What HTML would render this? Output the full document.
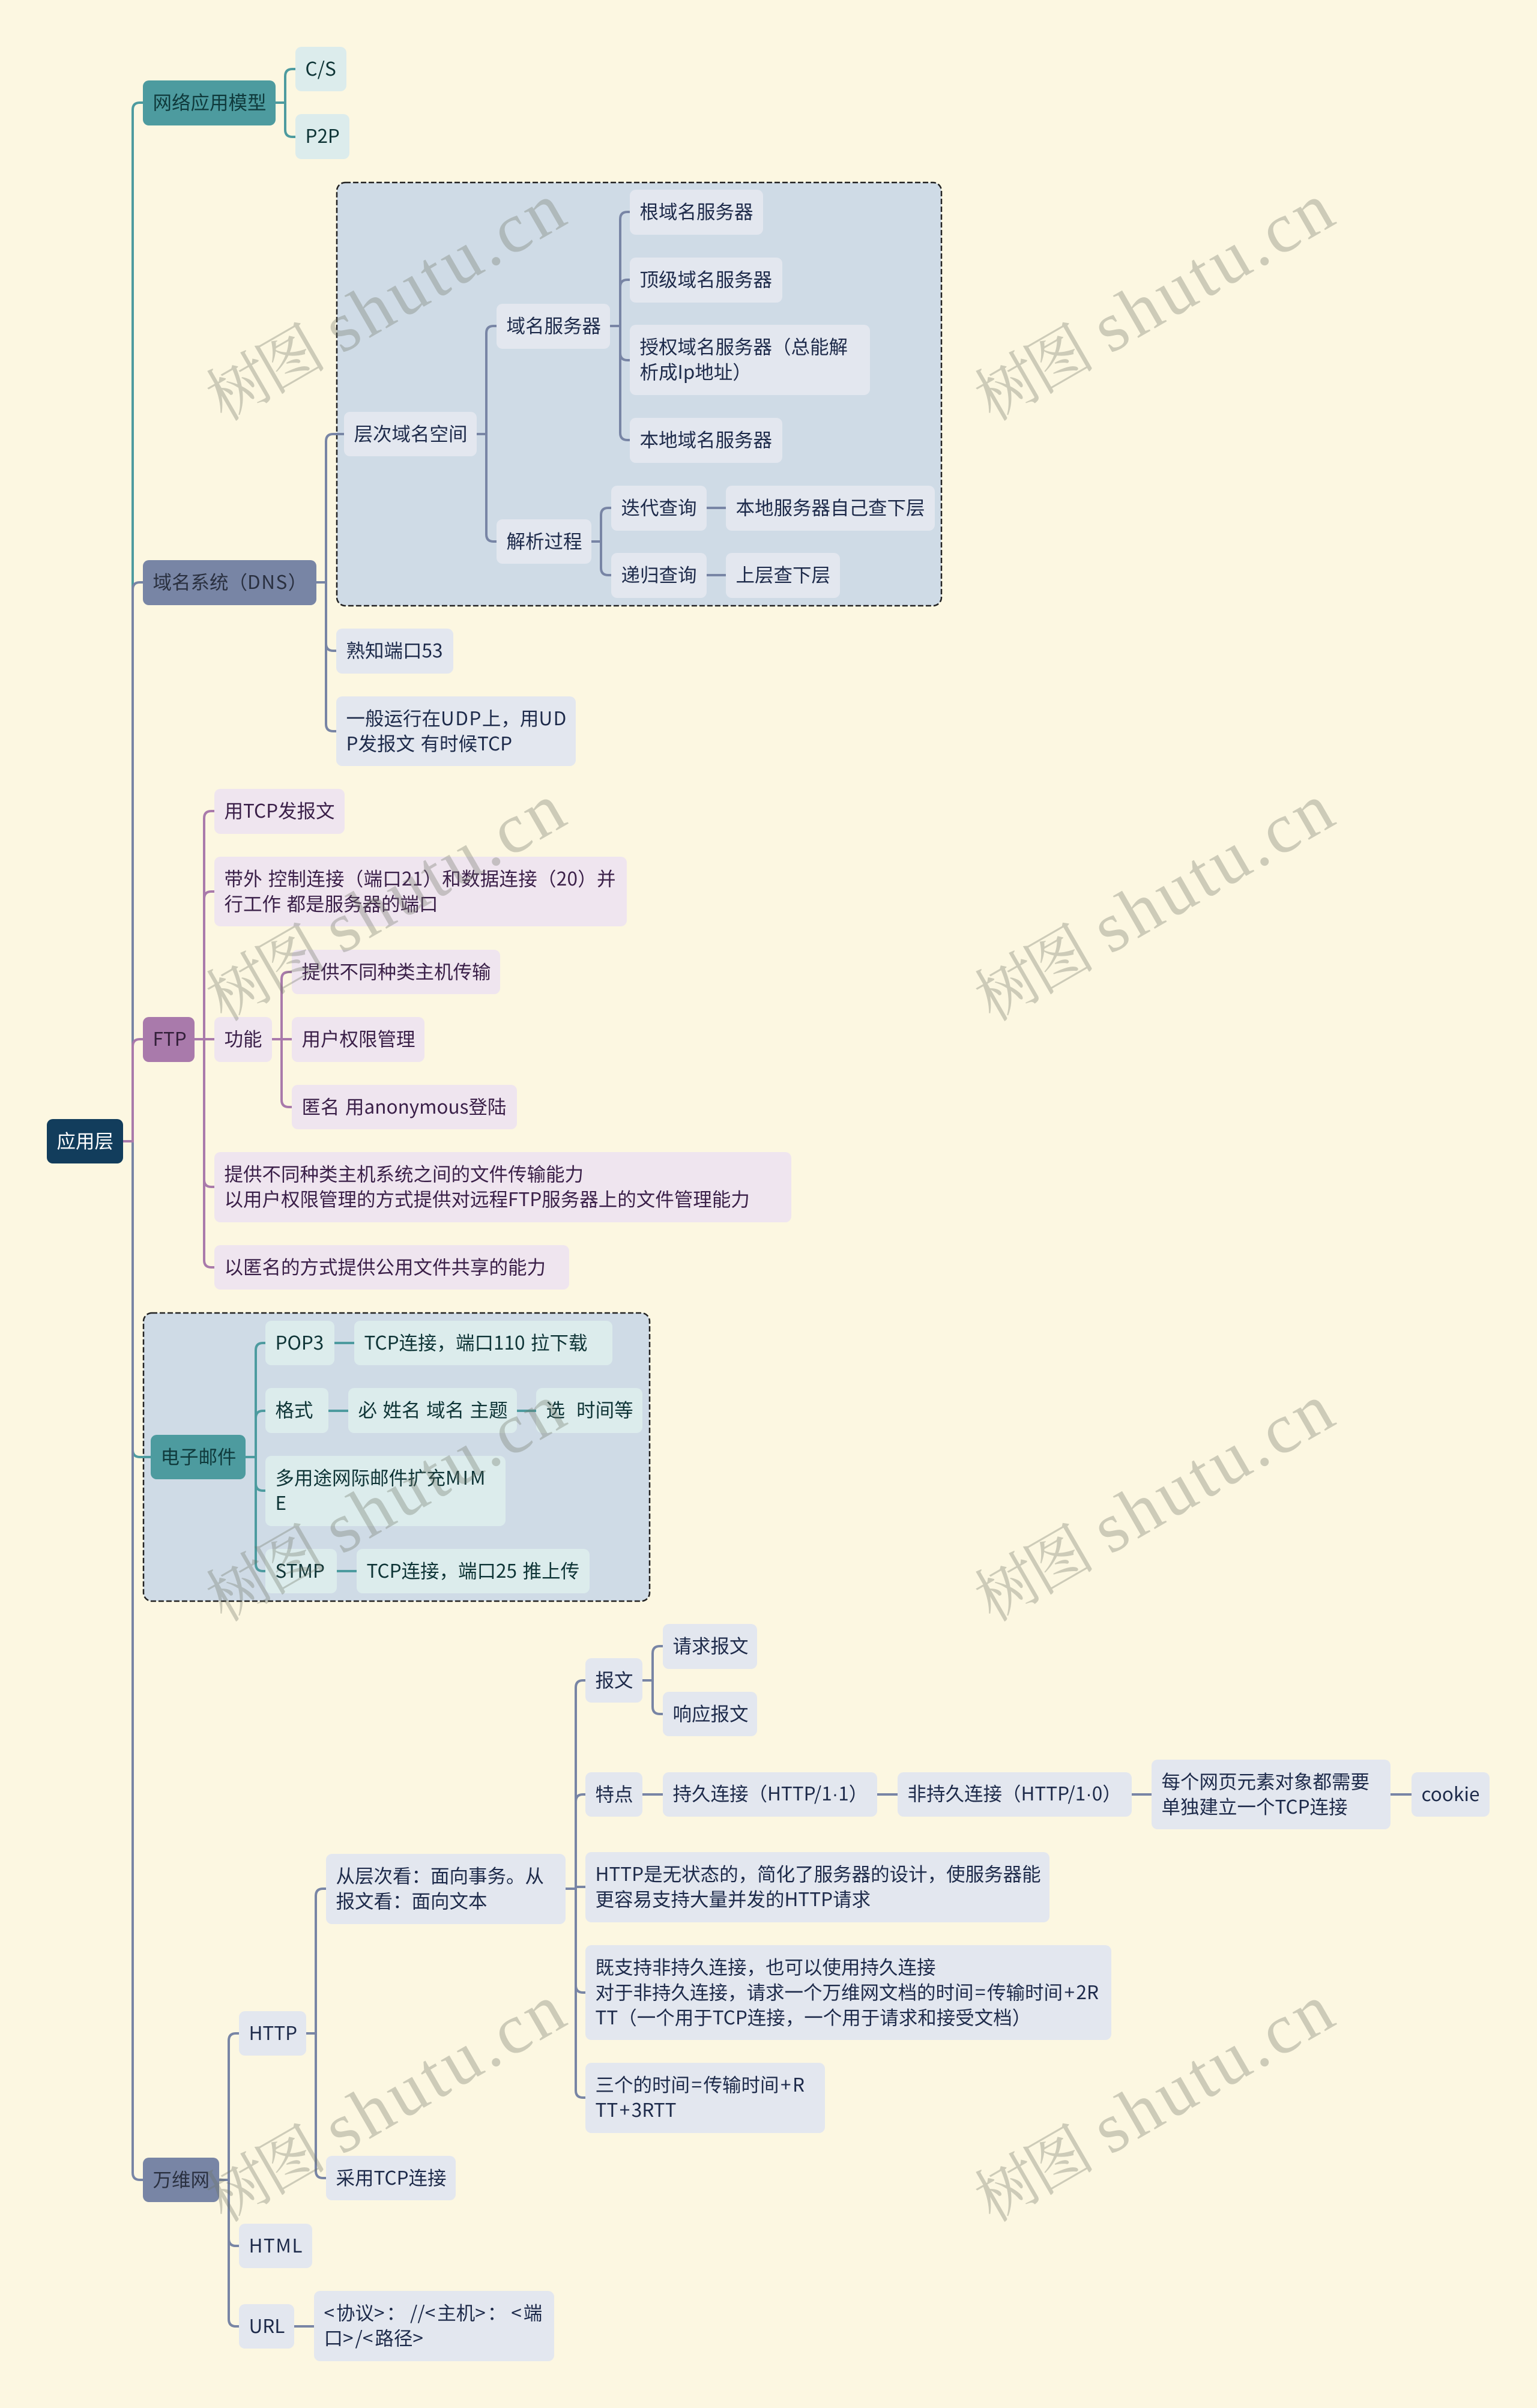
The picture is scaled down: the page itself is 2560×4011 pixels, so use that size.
<!DOCTYPE html>
<html lang="zh"><head><meta charset="utf-8"><title>应用层</title>
<style>
html,body{margin:0;padding:0}
body{position:relative;width:2560px;height:4011px;overflow:hidden;background:#fcf7e1;font:31.5px/42px "Noto Sans CJK SC","Liberation Sans",sans-serif;word-spacing:2.5px}
svg{position:absolute;left:0;top:0}
.n{position:absolute;box-sizing:border-box;padding-left:16.5px;padding-bottom:5px;display:flex;align-items:center;white-space:nowrap;border-radius:10px}
.s{background:#e3e7ef;color:#1d2a4a}
.t{background:#dcecec;color:#0e3436}
.p{background:#efe5ef;color:#3a1f48}
.S{background:#7885a5;color:#2a3040}
.T{background:#4d9b9f;color:#0f3a3c}
.P{background:#a97aab;color:#33203a}
.R{background:#123d5c;color:#fff}
.a{letter-spacing:3px}
.g{display:inline-block;width:8px}
.m{margin:0 2.5px}
.d{font-family:"Liberation Sans",sans-serif}
.w{letter-spacing:1.5px}
</style></head><body>

<svg width="2560" height="4011" style="z-index:1">
<rect x="561" y="304" width="1007" height="705" rx="14" fill="#cfdbe6" stroke="#222" stroke-width="2.5" stroke-dasharray="9 4"/>
<rect x="239" y="2187" width="843" height="480" rx="14" fill="#cfdbe6" stroke="#222" stroke-width="2.5" stroke-dasharray="9 4"/>
<g fill="none" stroke-width="4">
<g stroke="#4d9b9f">
<path d="M205 1901H221V183Q221 171 233 171H238"/>
<path d="M459 171H475M475 171V127Q475 115 487 115H492M475 171V216Q475 228 487 228H492"/>
</g>
<g stroke="#7885a5">
<path d="M205 1901H221V982Q221 970 233 970H238"/>
<path d="M527 970H543M543 970V735Q543 723 555 723H573M543 970V1072Q543 1084 555 1084H560M543 970V1206Q543 1218 555 1218H560"/>
<path d="M794 723H810M810 723V555Q810 543 822 543H827M810 723V890Q810 902 822 902H827"/>
<path d="M1016 543H1033M1033 543V365Q1033 353 1045 353H1049M1033 543V478Q1033 466 1045 466H1049M1033 543V588Q1033 600 1045 600H1049M1033 543V721Q1033 733 1045 733H1049"/>
<path d="M985 902H1001M1001 902V858Q1001 846 1013 846H1018M1001 902V946Q1001 958 1013 958H1018"/>
<path d="M1177 846H1209M1177 958H1209"/>
</g>
<g stroke="#4d9b9f">
<path d="M205 1901H221V2415Q221 2427 233 2427H251"/>
<path d="M409 2427H426M426 2427V2249Q426 2237 438 2237H442M426 2427V2362Q426 2350 438 2350H442M426 2427V2471Q426 2483 438 2483H442M426 2427V2605Q426 2617 438 2617H442"/>
<path d="M557 2237H590M547 2350H580M861 2350H893M561 2617H594"/>
</g>
<g stroke="#7885a5">
<path d="M205 1901H221V3619Q221 3631 233 3631H238"/>
<path d="M365 3631H381M381 3631V3399Q381 3387 393 3387H398M381 3631V3729Q381 3741 393 3741H398M381 3631V3863Q381 3875 393 3875H398"/>
<path d="M510 3387H526M526 3387V3158Q526 3146 538 3146H543M526 3387V3616Q526 3628 538 3628H543"/>
<path d="M942 3146H959M959 3146V2811Q959 2799 971 2799H975M959 3146V3001Q959 2989 971 2989H975M959 3143H975M959 3146V3307Q959 3319 971 3319H975M959 3146V3482Q959 3494 971 3494H975"/>
<path d="M1070 2799H1087M1087 2799V2754Q1087 2742 1099 2742H1104M1087 2799V2843Q1087 2855 1099 2855H1104"/>
<path d="M1070 2989H1104M1461 2989H1495M1885 2989H1918M2316 2989H2351M490 3875H523"/>
</g>
<g stroke="#a97aab">
<path d="M205 1901H221V1743Q221 1731 233 1731H238"/>
<path d="M324 1731H340M340 1731V1363Q340 1351 352 1351H357M340 1731V1497Q340 1485 352 1485H357M340 1731H357M340 1731V1965Q340 1977 352 1977H357M340 1731V2099Q340 2111 352 2111H357"/>
<path d="M453 1731H469M469 1731V1631Q469 1619 481 1619H486M469 1731H486M469 1731V1832Q469 1844 481 1844H486"/>
</g>
</g>
</svg>

<div style="position:absolute;left:0;top:0;z-index:2">
<div class="n R" style="left:78px;top:1864px;width:127px;height:74px">应用层</div>

<div class="n T" style="left:238px;top:134px;width:221px;height:75px">网络应用模型</div>
<div class="n t" style="left:492px;top:78px;width:85px;height:74px">C/S</div>
<div class="n t" style="left:492px;top:190px;width:90px;height:75px">P2P</div>

<div class="n S" style="left:238px;top:933px;width:289px;height:75px"><span>域名系统（<span class="w">DNS</span>）</span></div>
<div class="n s" style="left:573px;top:686px;width:221px;height:74px">层次域名空间</div>
<div class="n s" style="left:827px;top:506px;width:189px;height:75px">域名服务器</div>
<div class="n s" style="left:827px;top:865px;width:158px;height:74px">解析过程</div>
<div class="n s" style="left:1049px;top:316px;width:222px;height:75px">根域名服务器</div>
<div class="n s" style="left:1049px;top:429px;width:254px;height:75px">顶级域名服务器</div>
<div class="n s" style="left:1049px;top:541px;width:400px;height:117px">授权域名服务器（总能解<br>析成Ip地址）</div>
<div class="n s" style="left:1049px;top:696px;width:254px;height:75px">本地域名服务器</div>
<div class="n s" style="left:1018px;top:809px;width:159px;height:75px">迭代查询</div>
<div class="n s" style="left:1209px;top:809px;width:348px;height:75px">本地服务器自己查下层</div>
<div class="n s" style="left:1018px;top:921px;width:159px;height:75px">递归查询</div>
<div class="n s" style="left:1209px;top:921px;width:190px;height:75px">上层查下层</div>
<div class="n s" style="left:560px;top:1047px;width:195px;height:75px">熟知端口53</div>
<div class="n s" style="left:560px;top:1160px;width:399px;height:116px"><span>一般运行在<span class="w">UDP</span>上，用<span class="w">UD</span><br>P发报文 有时候TCP</span></div>

<div class="n P" style="left:238px;top:1694px;width:86px;height:75px">FTP</div>
<div class="n p" style="left:357px;top:1314px;width:217px;height:75px">用TCP发报文</div>
<div class="n p" style="left:357px;top:1427px;width:687px;height:116px"><span><span style="letter-spacing:.25px">带外 控制连接（端口21）和数据连接（20）并</span><br>行工作 都是服务器的端口</span></div>
<div class="n p" style="left:357px;top:1694px;width:96px;height:75px">功能</div>
<div class="n p" style="left:486px;top:1582px;width:347px;height:74px">提供不同种类主机传输</div>
<div class="n p" style="left:486px;top:1694px;width:221px;height:75px">用户权限管理</div>
<div class="n p" style="left:486px;top:1807px;width:375px;height:74px">匿名 用anonymous登陆</div>
<div class="n p" style="left:357px;top:1919px;width:961px;height:117px">提供不同种类主机系统之间的文件传输能力<br>以用户权限管理的方式提供对远程FTP服务器上的文件管理能力</div>
<div class="n p" style="left:357px;top:2074px;width:591px;height:74px">以匿名的方式提供公用文件共享的能力</div>

<div class="n T" style="left:251px;top:2390px;width:158px;height:74px">电子邮件</div>
<div class="n t" style="left:442px;top:2200px;width:115px;height:74px">POP3</div>
<div class="n t" style="left:590px;top:2200px;width:430px;height:74px">TCP连接，端口110 拉下载</div>
<div class="n t" style="left:442px;top:2312px;width:105px;height:75px">格式</div>
<div class="n t" style="left:580px;top:2312px;width:281px;height:75px">必 姓名 域名 主题</div>
<div class="n t" style="left:893px;top:2312px;width:177px;height:75px">选&nbsp; 时间等</div>
<div class="n t" style="left:442px;top:2425px;width:400px;height:117px"><span>多用途网际邮件扩充<span style="letter-spacing:3px">MIM</span><br>E</span></div>
<div class="n t" style="left:442px;top:2580px;width:119px;height:74px">STMP</div>
<div class="n t" style="left:594px;top:2580px;width:388px;height:74px">TCP连接，端口25 推上传</div>

<div class="n S" style="left:238px;top:3594px;width:127px;height:74px">万维网</div>
<div class="n s" style="left:398px;top:3350px;width:112px;height:74px">HTTP</div>
<div class="n s" style="left:398px;top:3704px;width:122px;height:74px"><span class="w">HTML</span></div>
<div class="n s" style="left:398px;top:3838px;width:92px;height:74px">URL</div>
<div class="n s" style="left:523px;top:3816px;width:400px;height:117px"><span><span class="a">&lt;</span>协议<span class="a">&gt;</span>：<span class="g"></span>//<span class="a">&lt;</span>主机<span class="a">&gt;</span>：<span class="g"></span><span class="a">&lt;</span>端<br>口<span class="a">&gt;</span>/<span class="a">&lt;</span>路径&gt;</span></div>
<div class="n s" style="left:543px;top:3088px;width:399px;height:117px">从层次看：面向事务。从<br>报文看：面向文本</div>
<div class="n s" style="left:543px;top:3591px;width:216px;height:74px">采用TCP连接</div>
<div class="n s" style="left:975px;top:2762px;width:95px;height:74px">报文</div>
<div class="n s" style="left:1104px;top:2705px;width:157px;height:75px">请求报文</div>
<div class="n s" style="left:1104px;top:2818px;width:157px;height:74px">响应报文</div>
<div class="n s" style="left:975px;top:2952px;width:95px;height:74px">特点</div>
<div class="n s" style="left:1104px;top:2952px;width:357px;height:74px"><span>持久连接（HTTP/1<span class="d">·</span>1）</span></div>
<div class="n s" style="left:1495px;top:2952px;width:390px;height:74px"><span>非持久连接（HTTP/1<span class="d">·</span>0）</span></div>
<div class="n s" style="left:1918px;top:2931px;width:398px;height:116px">每个网页元素对象都需要<br>单独建立一个TCP连接</div>
<div class="n s" style="left:2351px;top:2952px;width:130px;height:74px">cookie</div>
<div class="n s" style="left:975px;top:3085px;width:773px;height:117px">HTTP是无状态的，简化了服务器的设计，使服务器能<br>更容易支持大量并发的HTTP请求</div>
<div class="n s" style="left:975px;top:3240px;width:876px;height:158px"><span>既支持非持久连接，也可以使用持久连接<br>对于非持久连接，请求一个万维网文档的时间<span class="m">=</span>传输时间<span class="m">+</span>2R<br>TT（一个用于TCP连接，一个用于请求和接受文档）</span></div>
<div class="n s" style="left:975px;top:3436px;width:399px;height:117px"><span>三个的时间<span class="m">=</span>传输时间<span class="m">+</span>R<br>TT<span class="m">+</span>3RTT</span></div>
</div>

<svg width="2560" height="4011" style="z-index:3;pointer-events:none">
<g font-family="'Liberation Serif','Noto Serif CJK SC',serif" fill="rgb(109,115,100)" fill-opacity=".33">
<g transform="translate(373 703) rotate(-30)"><text font-family="'Noto Serif CJK SC',serif" font-size="104" letter-spacing="-8">树图</text><text x="226" font-size="118" letter-spacing="6">shutu.cn</text></g>
<g transform="translate(1653 703) rotate(-30)"><text font-family="'Noto Serif CJK SC',serif" font-size="104" letter-spacing="-8">树图</text><text x="226" font-size="118" letter-spacing="6">shutu.cn</text></g>
<g transform="translate(373 1703) rotate(-30)"><text font-family="'Noto Serif CJK SC',serif" font-size="104" letter-spacing="-8">树图</text><text x="226" font-size="118" letter-spacing="6">shutu.cn</text></g>
<g transform="translate(1653 1703) rotate(-30)"><text font-family="'Noto Serif CJK SC',serif" font-size="104" letter-spacing="-8">树图</text><text x="226" font-size="118" letter-spacing="6">shutu.cn</text></g>
<g transform="translate(373 2703) rotate(-30)"><text font-family="'Noto Serif CJK SC',serif" font-size="104" letter-spacing="-8">树图</text><text x="226" font-size="118" letter-spacing="6">shutu.cn</text></g>
<g transform="translate(1653 2703) rotate(-30)"><text font-family="'Noto Serif CJK SC',serif" font-size="104" letter-spacing="-8">树图</text><text x="226" font-size="118" letter-spacing="6">shutu.cn</text></g>
<g transform="translate(373 3703) rotate(-30)"><text font-family="'Noto Serif CJK SC',serif" font-size="104" letter-spacing="-8">树图</text><text x="226" font-size="118" letter-spacing="6">shutu.cn</text></g>
<g transform="translate(1653 3703) rotate(-30)"><text font-family="'Noto Serif CJK SC',serif" font-size="104" letter-spacing="-8">树图</text><text x="226" font-size="118" letter-spacing="6">shutu.cn</text></g>
</g>
</svg>
</body></html>
